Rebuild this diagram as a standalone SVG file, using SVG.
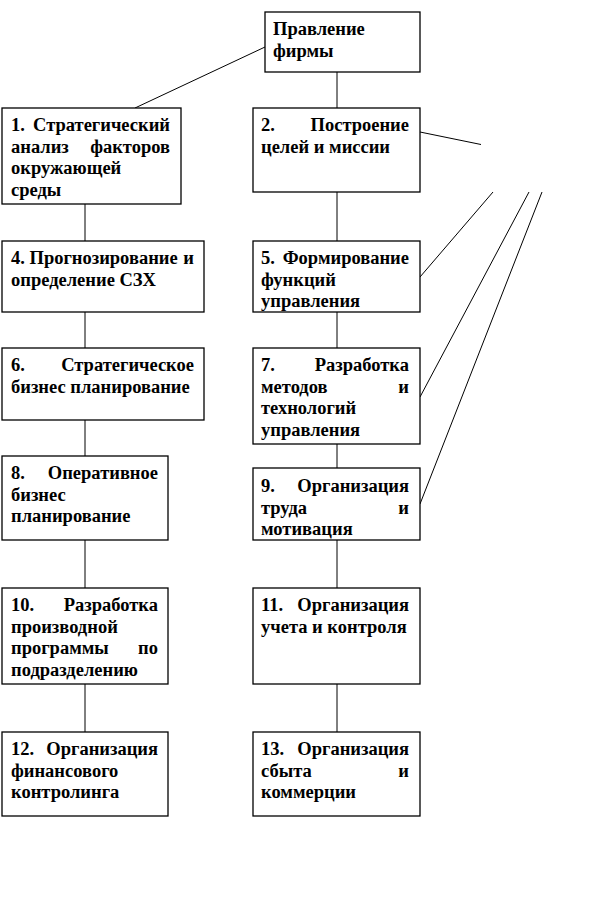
<svg xmlns="http://www.w3.org/2000/svg" width="614" height="913" viewBox="0 0 614 913">
<style>
.b{fill:#fff;stroke:#000;stroke-width:1.3}
.c line{stroke:#000;stroke-width:1}
text{font-family:"Liberation Serif","Times New Roman",serif;font-weight:bold;font-size:18.5px;fill:#000}
.r{text-anchor:end}
</style>
<rect width="614" height="913" fill="#fff"/>
<g class="c" id="connectors">
<line x1="265" y1="47" x2="135" y2="108"/>
<line x1="337" y1="72" x2="337" y2="108"/>
<line x1="337" y1="192" x2="337" y2="241"/>
<line x1="337" y1="312" x2="337" y2="348"/>
<line x1="337" y1="444" x2="337" y2="468"/>
<line x1="337" y1="540" x2="337" y2="588"/>
<line x1="337" y1="684" x2="337" y2="732"/>
<line x1="85" y1="204" x2="85" y2="241"/>
<line x1="85" y1="312" x2="85" y2="348"/>
<line x1="85" y1="420" x2="85" y2="456"/>
<line x1="85" y1="540" x2="85" y2="588"/>
<line x1="85" y1="684" x2="85" y2="732"/>
<line x1="420" y1="132" x2="481" y2="144.5"/>
<line x1="420" y1="277" x2="493" y2="192"/>
<line x1="420" y1="397" x2="529" y2="192"/>
<line x1="420" y1="504" x2="542" y2="192"/>
</g>
<g id="n0"><rect class="b" x="265" y="12" width="155" height="60"/>
<text x="273" y="35">Правление</text><text x="273" y="57">фирмы</text></g>
<g id="n1"><rect class="b" x="2" y="108" width="179" height="96"/>
<text x="11" y="131">1.</text><text class="r" x="170" y="131">Стратегический</text>
<text x="11" y="152.5">анализ</text><text class="r" x="170" y="152.5">факторов</text>
<text x="11" y="174">окружающей</text><text x="11" y="196">среды</text></g>
<g id="n2"><rect class="b" x="253" y="108" width="167" height="84"/>
<text x="261" y="131">2.</text><text class="r" x="409" y="131">Построение</text>
<text x="261" y="152.5">целей и миссии</text></g>
<g id="n4"><rect class="b" x="2" y="241" width="202" height="71"/>
<text x="11" y="264">4. Прогнозирование</text><text class="r" x="194" y="264">и</text>
<text x="11" y="285.5">определение СЗХ</text></g>
<g id="n5"><rect class="b" x="253" y="241" width="167" height="71"/>
<text x="261" y="264">5.</text><text class="r" x="409" y="264">Формирование</text>
<text x="261" y="285.5">функций</text><text x="261" y="307">управления</text></g>
<g id="n6"><rect class="b" x="2" y="348" width="202" height="72"/>
<text x="11" y="371">6.</text><text class="r" x="194" y="371">Стратегическое</text>
<text x="11" y="392.5">бизнес планирование</text></g>
<g id="n7"><rect class="b" x="253" y="348" width="167" height="96"/>
<text x="261" y="371">7.</text><text class="r" x="409" y="371">Разработка</text>
<text x="261" y="392.5">методов</text><text class="r" x="409" y="392.5">и</text>
<text x="261" y="414">технологий</text><text x="261" y="436">управления</text></g>
<g id="n8"><rect class="b" x="2" y="456" width="166" height="84"/>
<text x="11" y="479">8.</text><text class="r" x="158" y="479">Оперативное</text>
<text x="11" y="500.5">бизнес</text><text x="11" y="522">планирование</text></g>
<g id="n9"><rect class="b" x="253" y="468" width="167" height="72"/>
<text x="261" y="492">9.</text><text class="r" x="409" y="492">Организация</text>
<text x="261" y="513.5">труда</text><text class="r" x="409" y="513.5">и</text>
<text x="261" y="535">мотивация</text></g>
<g id="n10"><rect class="b" x="2" y="588" width="166" height="96"/>
<text x="11" y="611">10.</text><text class="r" x="158" y="611">Разработка</text>
<text x="11" y="632.5">производной</text>
<text x="11" y="654">программы</text><text class="r" x="158" y="654">по</text>
<text x="11" y="675.5">подразделению</text></g>
<g id="n11"><rect class="b" x="253" y="588" width="167" height="96"/>
<text x="261" y="611">11.</text><text class="r" x="409" y="611">Организация</text>
<text x="261" y="632.5">учета и контроля</text></g>
<g id="n12"><rect class="b" x="2" y="732" width="166" height="84"/>
<text x="11" y="755">12.</text><text class="r" x="158" y="755">Организация</text>
<text x="11" y="777">финансового</text><text x="11" y="798">контролинга</text></g>
<g id="n13"><rect class="b" x="253" y="732" width="167" height="84"/>
<text x="261" y="755">13.</text><text class="r" x="409" y="755">Организация</text>
<text x="261" y="777">сбыта</text><text class="r" x="409" y="777">и</text>
<text x="261" y="798">коммерции</text></g>
</svg>
